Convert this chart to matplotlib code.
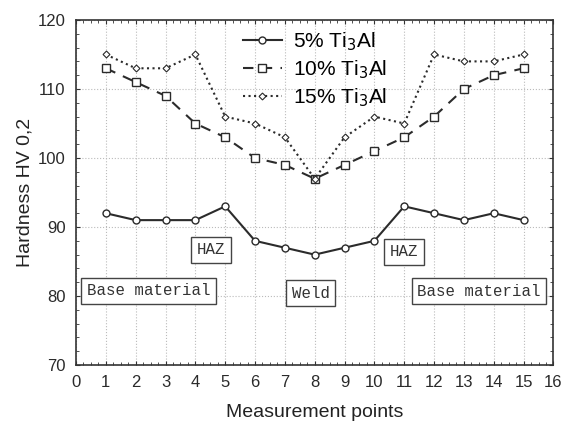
import matplotlib
matplotlib.use("Agg")
import matplotlib.pyplot as plt
from matplotlib.ticker import MultipleLocator

plt.rcParams['font.family'] = ['Liberation Sans', 'DejaVu Sans']

points = list(range(1, 16))
hv_5 = [92, 91, 91, 91, 93, 88, 87, 86, 87, 88, 93, 92, 91, 92, 91]
hv_10 = [113, 111, 109, 105, 103, 100, 99, 97, 99, 101, 103, 106, 110, 112, 113]
hv_15 = [115, 113, 113, 115, 106, 105, 103, 97, 103, 106, 105, 115, 114, 114, 115]
series_labels = ['5% Ti$_3$Al', '10% Ti$_3$Al', '15% Ti$_3$Al']

zone_labels = ['Base material', 'HAZ', 'Weld', 'HAZ', 'Base material']
zone_x = [2.43, 4.53, 7.86, 11.0, 13.5]
zone_y = [80.8, 86.7, 80.4, 86.4, 80.7]

fig = plt.figure(figsize=(5.63, 4.25), dpi=100)
ax = fig.add_axes([0.135, 0.141, 0.848, 0.812])

c = '#2b2b2b'
ax.plot(points, hv_5, '-', color=c, lw=1.5, marker='o', ms=5, mfc='white', mec=c, mew=1.0,
        label=series_labels[0], zorder=3)
ax.plot(points, hv_10, '--', color=c, lw=1.5, dashes=(5, 4), marker='s', ms=5.5, mfc='white', mec=c, mew=1.0,
        label=series_labels[1], zorder=3)
ax.plot(points, hv_15, ':', color=c, lw=1.5, marker='D', ms=3.5, mfc='white', mec=c, mew=0.8,
        label=series_labels[2], zorder=3)

for t, x, y in zip(zone_labels, zone_x, zone_y):
    ax.text(x, y, t, family=['Liberation Mono', 'DejaVu Sans Mono'], fontsize=11.3, color='#333333',
            ha='center', va='center', zorder=5,
            bbox=dict(boxstyle='square,pad=0.35', fc='white', ec='#444444', lw=1.0))

ax.set_xlim(0, 16)
ax.set_ylim(70, 120)
ax.xaxis.set_major_locator(MultipleLocator(1))
ax.xaxis.set_minor_locator(MultipleLocator(0.25))
ax.yaxis.set_major_locator(MultipleLocator(10))
ax.yaxis.set_minor_locator(MultipleLocator(2))
ax.tick_params(which='both', direction='in', top=True, right=True, color='#333333')
ax.tick_params(which='major', length=3, labelsize=12, labelcolor='#2a2a2a', pad=7.5)
ax.tick_params(which='minor', length=2)
ax.grid(True, which='major', ls=':', color='#bbbbbb', lw=0.8)
for s in ax.spines.values():
    s.set_color('#333333')
    s.set_linewidth(1.2)

ax.set_xlabel('Measurement points', fontsize=14, color='#222222', labelpad=10)
ax.set_ylabel('Hardness HV 0,2', fontsize=14, color='#222222', labelpad=3)

leg = ax.legend(loc='upper center', bbox_to_anchor=(0.5, 1.0), frameon=False, fontsize=15,
                handlelength=1.9, handletextpad=0.5, labelspacing=0.25, borderaxespad=0.1)

fig.savefig('out.png', dpi=100)
